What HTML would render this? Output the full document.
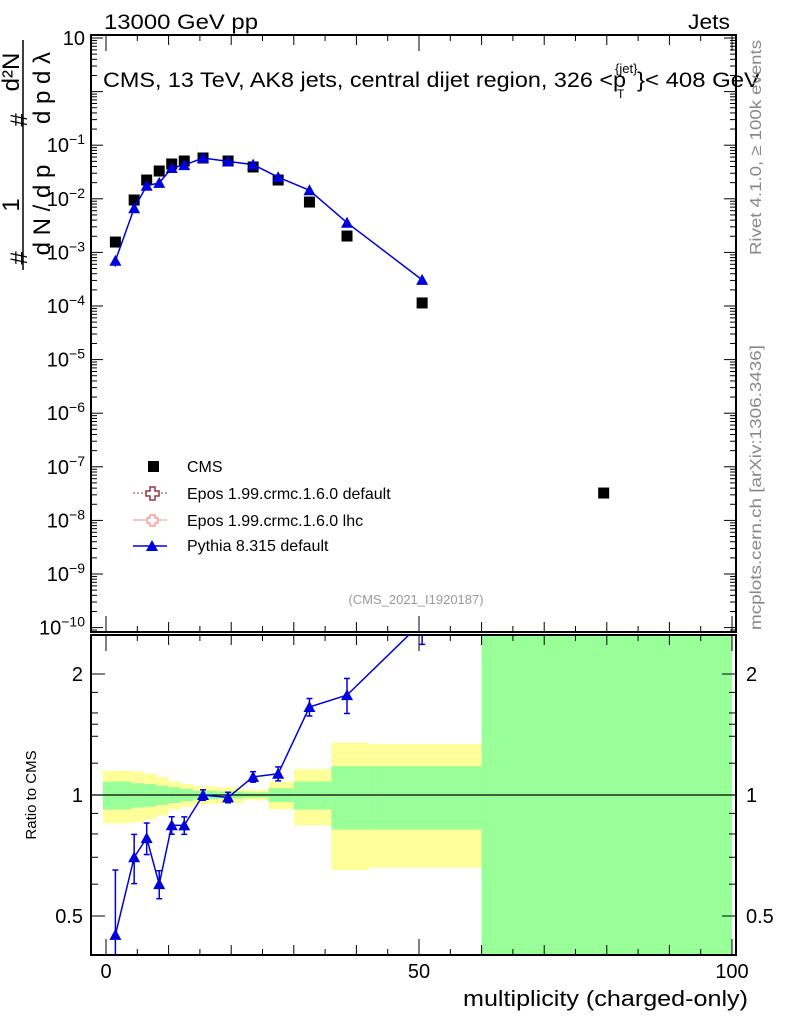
<!DOCTYPE html>
<html><head><meta charset="utf-8"><style>
body{margin:0;background:#fff}
svg{display:block;font-family:"Liberation Sans",sans-serif}
</style></head><body>
<svg id="c" width="786" height="1024" viewBox="0 0 786 1024"></svg>
<script>
const binCentres=[1.5,4.5,6.5,8.5,10.5,12.5,15.5,19.5,23.5,27.5,32.5,38.5,50.5,79.5];
const cmsValues=[1.56e-3,9.5e-3,2.24e-2,3.3e-2,4.46e-2,5.07e-2,5.77e-2,5.07e-2,3.92e-2,2.24e-2,8.7e-3,2.02e-3,1.14e-4,3.24e-8];
const pythiaX=[1.5,4.5,6.5,8.5,10.5,12.5,15.5,19.5,23.5,27.5,32.5,38.5,50.5];
const pythiaValues=[7.0e-4,6.65e-3,1.75e-2,1.98e-2,3.75e-2,4.26e-2,5.77e-2,5.0e-2,4.35e-2,2.53e-2,1.44e-2,3.58e-3,3.07e-4];
const pythiaRelErr=[0.45,0.14,0.09,0.08,0.05,0.05,0.03,0.03,0.03,0.04,0.05,0.1,0.12];
const bandEdges=[-0.5,4,6,8,10,12,14,18,22,26,30,36,42,60,100];
const yellowHalf=[0.15,0.145,0.13,0.11,0.08,0.065,0.05,0.045,0.03,0.08,0.16,0.35,0.34,5];
const greenHalf=[0.08,0.07,0.065,0.055,0.045,0.035,0.025,0.02,0.015,0.04,0.08,0.18,0.18,5];
const mainYTicks=[1,0,-1,-2,-3,-4,-5,-6,-7,-8,-9,-10];
const ratioTicks=[0.5,1,2];
const xTickLabels=[0,50,100];

const S=document.getElementById('c');const NS='http://www.w3.org/2000/svg';
function el(t,a,p){const e=document.createElementNS(NS,t);for(const k in a)e.setAttribute(k,a[k]);(p||S).appendChild(e);return e;}
const L=91,R=736,MT=35,MB=632,RT=635,RB=955;
const X=v=>106+6.26*v;
const Y=v=>38-53.6*(Math.log10(v)-1);
const YR=r=>795-121*Math.log2(r);

const gB=el('g',{});
for(let i=0;i<yellowHalf.length;i++){
  const x0=X(bandEdges[i]),x1=X(bandEdges[i+1]);
  const yt=Math.max(RT,YR(1+yellowHalf[i])),yb=Math.min(RB,YR(Math.max(0.01,1-yellowHalf[i])));
  const r=el('rect',{x:x0,y:yt,width:x1-x0,height:yb-yt,fill:'#ffff99'},gB);
  
  const gt=Math.max(RT,YR(1+greenHalf[i])),gb=Math.min(RB,YR(Math.max(0.01,1-greenHalf[i])));
  const g=el('rect',{x:x0,y:gt,width:x1-x0,height:gb-gt,fill:'#99ff99'},gB);
  
}
el('line',{x1:L,x2:R,y1:YR(1),y2:YR(1),stroke:'#000','stroke-width':1.2});

el('rect',{x:L,y:MT,width:R-L,height:MB-MT,fill:'none',stroke:'#000','stroke-width':2});
el('rect',{x:L,y:RT,width:R-L,height:RB-RT,fill:'none',stroke:'#000','stroke-width':2});

mainYTicks.forEach(e=>{
  const y=Y(Math.pow(10,e));
  el('line',{x1:L,x2:L+12,y1:y,y2:y,stroke:'#000'});el('line',{x1:R,x2:R-12,y1:y,y2:y,stroke:'#000'});
  for(let m=2;m<10;m++){const ym=Y(m*Math.pow(10,e-1));if(ym<MB&&ym>MT){el('line',{x1:L,x2:L+6,y1:ym,y2:ym,stroke:'#000'});el('line',{x1:R,x2:R-6,y1:ym,y2:ym,stroke:'#000'});}}
  if(e===0)return;
  const t=el('text',{x:L-6,y:y+7,'text-anchor':'end','font-size':20});
  
  if(e===1)t.textContent='10';else{t.textContent='10';const s=el('tspan',{dy:-8,'font-size':14},t);s.textContent='−'+(-e);}
});
for(let v=0;v<=100;v+=5){const x=X(v);const len=v%50===0?16:(v%10===0?10:6);
  [[MB,-1],[RT,1],[RB,-1],[MT,1]].forEach(([y,d])=>el('line',{x1:x,x2:x,y1:y,y2:y+d*len,stroke:'#000'}));}
xTickLabels.forEach(v=>{const t=el('text',{x:X(v),y:978,'text-anchor':'middle','font-size':20});t.textContent=v;
  });
ratioTicks.forEach(r=>{const y=YR(r);
  el('line',{x1:L,x2:L+14,y1:y,y2:y,stroke:'#000'});el('line',{x1:R,x2:R-14,y1:y,y2:y,stroke:'#000'});
  const s=String(r);
  const a=el('text',{x:L-8,y:y+7,'text-anchor':'end','font-size':20});a.textContent=s;
  
  const b=el('text',{x:R+10,y:y+7,'font-size':20});b.textContent=s;
  });
[0.6,0.7,0.8,0.9,1.5,1.2,1.4,1.6,1.8].forEach(r=>{const y=YR(r);el('line',{x1:L,x2:L+7,y1:y,y2:y,stroke:'#000'});el('line',{x1:R,x2:R-7,y1:y,y2:y,stroke:'#000'});});

binCentres.forEach((c,i)=>{const r=el('rect',{x:X(c)-5.5,y:Y(cmsValues[i])-5.5,width:11,height:11,fill:'#000'});
  });

function tri(x,y,g){const t=el('path',{d:`M${x},${y-6}L${x+6},${y+5}L${x-6},${y+5}Z`,fill:'#0000dd'},g);return t;}
const gP=el('g',{});
el('polyline',{points:pythiaX.map((c,i)=>X(c)+','+Y(pythiaValues[i])).join(' '),fill:'none',stroke:'#0000dd','stroke-width':1.5},gP);
pythiaX.forEach((c,i)=>{const x=X(c),v=pythiaValues[i],e=pythiaRelErr[i]*0.5;
  el('line',{x1:x,x2:x,y1:Y(v*(1+e)),y2:Y(v*(1-e)),stroke:'#0000dd','stroke-width':1.5},gP);
  const t=tri(x,Y(v),gP);});
const gR=el('g',{});
const clip=el('clipPath',{id:'rc'});el('rect',{x:L,y:RT,width:R-L,height:RB-RT},clip);
gR.setAttribute('clip-path','url(#rc)');
const ratios=pythiaX.map((c,i)=>pythiaValues[i]/cmsValues[i]);
el('polyline',{points:pythiaX.map((c,i)=>X(c)+','+YR(ratios[i])).join(' '),fill:'none',stroke:'#0000dd','stroke-width':1.5},gR);
pythiaX.forEach((c,i)=>{const x=X(c),r=ratios[i],e=pythiaRelErr[i]*r;
  el('line',{x1:x,x2:x,y1:YR(r+e),y2:YR(Math.max(0.05,r-e)),stroke:'#0000dd','stroke-width':1.5},gR);
  [r+e,Math.max(0.05,r-e)].forEach(q=>el('line',{x1:x-3,x2:x+3,y1:YR(q),y2:YR(q),stroke:'#0000dd','stroke-width':1.5},gR));
  const t=tri(x,YR(r),gR);});

function txt(s,a,name){const t=el('text',a);t.textContent=s;return t;}
txt('13000 GeV pp',{x:104,y:29,'font-size':21,textLength:154,lengthAdjust:'spacingAndGlyphs'},'beam-label');
txt('Jets',{x:688,y:29,'font-size':21,textLength:42,lengthAdjust:'spacingAndGlyphs'},'process-label');
txt('CMS, 13 TeV, AK8 jets, central dijet region, 326 <p',{x:103,y:87,'font-size':21,textLength:523,lengthAdjust:'spacingAndGlyphs'},'plot-title');
txt('{jet}',{x:615,y:73,'font-size':13},'title-sup');txt('T',{x:617,y:98,'font-size':12},'title-sub');
txt('}< 408 GeV',{x:637,y:87,'font-size':21,textLength:123,lengthAdjust:'spacingAndGlyphs'},'title-end');
txt('(CMS_2021_I1920187)',{x:416,y:604,'font-size':13,fill:'#999','text-anchor':'middle'},'analysis-id');
txt('multiplicity (charged-only)',{x:463,y:1006,'font-size':22,textLength:285,lengthAdjust:'spacingAndGlyphs'},'x-axis-title');
txt('Ratio to CMS',{x:0,y:0,'font-size':15,'text-anchor':'middle',transform:'translate(36,795) rotate(-90)'},'ratio-axis-title');
txt('Rivet 4.1.0, ≥ 100k events',{x:0,y:0,'font-size':16,fill:'#888',textLength:215,lengthAdjust:'spacingAndGlyphs',transform:'translate(761,255) rotate(-90)'},'rivet-label');
txt('mcplots.cern.ch [arXiv:1306.3436]',{x:0,y:0,'font-size':16,fill:'#888',textLength:285,lengthAdjust:'spacingAndGlyphs',transform:'translate(761,630) rotate(-90)'},'mcplots-label');
txt('#',{x:0,y:0,'font-size':24,'text-anchor':'middle',transform:'translate(27,258) rotate(-90)'},'y-title-1');
txt('1',{x:0,y:0,'font-size':24,'text-anchor':'middle',transform:'translate(19,205) rotate(-90)'},'y-title-2');
el('line',{x1:23,x2:23,y1:40,y2:270,stroke:'#000','stroke-width':1.5});
txt('d N / d p',{x:0,y:0,'font-size':24,'text-anchor':'middle',transform:'translate(50,210) rotate(-90)'},'y-title-3');
txt('#',{x:0,y:0,'font-size':24,'text-anchor':'middle',transform:'translate(27,120) rotate(-90)'},'y-title-4');
txt('d p  d λ',{x:0,y:0,'font-size':24,'text-anchor':'middle',transform:'translate(50,88) rotate(-90)'},'y-title-5');
txt('d²N',{x:0,y:0,'font-size':24,'text-anchor':'middle',transform:'translate(19,72) rotate(-90)'},'y-title-6');
const lg=el('g',{});
el('rect',{x:148,y:461,width:11,height:11,fill:'#000'},lg);
txt('CMS',{x:187,y:472,'font-size':16},'legend-cms');
el('line',{x1:133,x2:167,y1:493,y2:493,stroke:'#993344','stroke-dasharray':'2,2'},lg);
el('path',{d:'M150,487h5v4h4v5h-4v4h-5v-4h-4v-5h4z',fill:'#fff',stroke:'#993344','stroke-width':1.5},lg);
txt('Epos 1.99.crmc.1.6.0 default',{x:187,y:499,'font-size':16},'legend-epos-default');
el('line',{x1:133,x2:167,y1:520,y2:520,stroke:'#ff8888'},lg);
el('path',{d:'M150,515h5v3h3v5h-3v3h-5v-3h-3v-5h3z',fill:'#fff',stroke:'#ff8888','stroke-width':1.2},lg);
txt('Epos 1.99.crmc.1.6.0 lhc',{x:187,y:526,'font-size':16},'legend-epos-lhc');
el('line',{x1:133,x2:167,y1:546,y2:546,stroke:'#0000dd','stroke-width':1.5},lg);
tri(152,546,lg);
txt('Pythia 8.315 default',{x:187,y:551,'font-size':16},'legend-pythia');
</script>
</body></html>
